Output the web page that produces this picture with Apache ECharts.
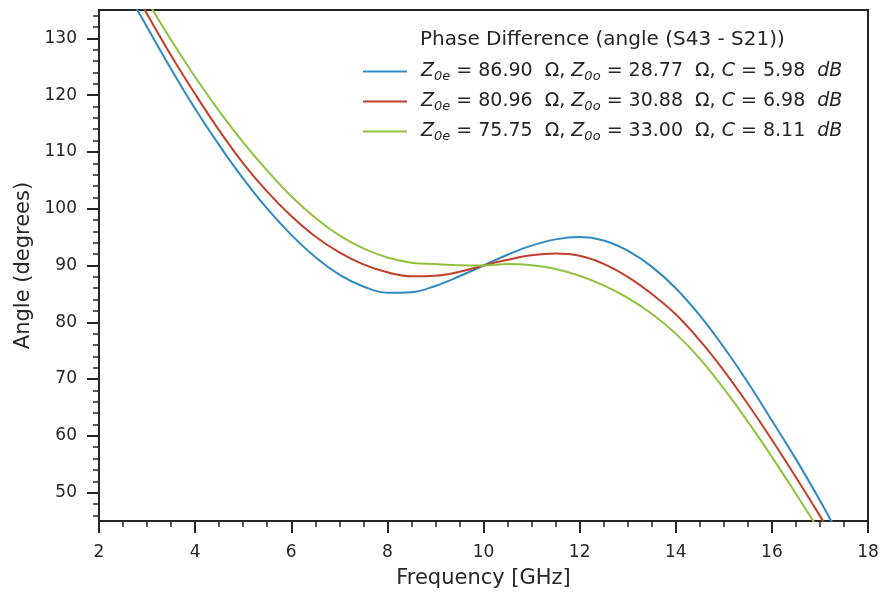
<!DOCTYPE html>
<html><head><meta charset="utf-8">
<script src="https://cdn.jsdelivr.net/npm/echarts@6/dist/echarts.min.js"></script>
<style>html,body{margin:0;padding:0;background:#fff}#c{width:881px;height:597px}</style>
</head><body><div id="c"></div>
<script>
const freq  = [2.5,3.0,3.5,4.0,4.5,5.0,5.5,6.0,6.5,7.0,7.5,8.0,8.5,9.0,9.5,10.0,10.5,11.0,11.5,12.0,12.5,13.0,13.5,14.0,14.5,15.0,15.5,16.0,16.5,17.0,17.5];
const blue  = [139.5,132.0,124.6,117.6,111.2,105.3,100.0,95.4,91.5,88.4,86.3,85.2,85.3,86.4,88.1,90.0,91.9,93.5,94.6,95.0,94.4,92.6,89.8,86.0,81.2,75.6,69.4,62.7,55.9,48.6,40.9];
const red   = [141.8,134.3,127.0,120.2,113.8,108.0,103.0,98.7,95.1,92.3,90.2,88.8,88.1,88.2,88.9,90.0,91.0,91.8,92.1,91.7,90.3,88.0,85.0,81.4,76.8,71.5,65.6,59.3,52.7,45.9,38.9];
const green = [144.2,136.7,129.7,123.2,117.2,111.7,106.7,102.2,98.4,95.3,93.0,91.4,90.5,90.25,90.05,90.0,90.25,90.05,89.4,88.2,86.5,84.3,81.5,78.0,73.6,68.3,62.5,56.3,49.8,43.1,36.2];
const xTicks = [2,4,6,8,10,12,14,16,18];
const yTicks = [50,60,70,80,90,100,110,120,130];
const z0e = ['86.90','80.96','75.75'];
const z0o = ['28.77','30.88','33.00'];
const cdb = ['5.98','6.98','8.11'];
const seriesNames = ['s1','s2','s3'];
const colors = ['#2f8ac4','#c0402a','#8fc23f'];
const legendTitle = 'Phase Difference (angle (S43 - S21))';

const ink = '#262626';
const font = '"DejaVu Sans", "Liberation Sans", sans-serif';
const allValues = [blue, red, green];
const chart = echarts.init(document.getElementById('c'));
const series = allValues.map((vals, k) => ({
  name: seriesNames[k],
  type: 'line',
  data: freq.map((f, i) => [f, vals[i]]),
  symbol: 'none',
  smooth: 0.4,
  clip: true,
  lineStyle: { width: 2, color: colors[k] },
  itemStyle: { color: colors[k] }
}));
chart.setOption({
  animation: false,
  backgroundColor: '#fff',
  textStyle: { fontFamily: font },
  grid: { left: 99, right: 13, top: 10, bottom: 76, show: true, borderColor: ink, borderWidth: 2, containLabel: false, outerBoundsMode: 'none' },
  title: { text: legendTitle, left: 420, top: 30, padding: 0, textStyle: { fontSize: 20, fontWeight: 'normal', color: ink, fontFamily: font } },
  legend: {
    data: seriesNames, orient: 'vertical', left: 363, top: 62, padding: 0,
    icon: 'rect', itemWidth: 44, itemHeight: 2, itemGap: 8.5,
    formatter: function (name) {
      const i = seriesNames.indexOf(name);
      return '{pad|}{i|Z}{s|0e}{n| = ' + z0e[i] + '  Ω, }{i|Z}{s|0o}{n| = ' + z0o[i] + '  Ω, }{i|C}{n| = ' + cdb[i] + '  }{i|dB}';
    },
    textStyle: {
      color: ink, fontSize: 19,
      rich: {
        pad: { width: 9, lineHeight: 24 },
        i: { fontStyle: 'italic', fontSize: 19, fontFamily: font, color: ink, lineHeight: 24 },
        s: { fontStyle: 'italic', fontSize: 13, fontFamily: font, color: ink, lineHeight: 14, verticalAlign: 'bottom' },
        n: { fontSize: 19, fontFamily: font, color: ink, lineHeight: 24 }
      }
    }
  },
  xAxis: {
    type: 'value', min: 2, max: 18, interval: 2,
    name: 'Frequency [GHz]', nameLocation: 'middle', nameGap: 47,
    nameTextStyle: { fontSize: 21, color: ink, fontFamily: font },
    axisLine: { show: true, lineStyle: { color: ink, width: 2 } },
    axisTick: { show: true, inside: false, length: 12, lineStyle: { color: ink, width: 2 } },
    minorTick: { show: true, splitNumber: 4, length: 6, lineStyle: { color: ink, width: 1.5 } },
    splitLine: { show: false },
    axisLabel: { fontSize: 17, color: ink, margin: 23, fontFamily: font, customValues: xTicks }
  },
  yAxis: {
    type: 'value', min: 45, max: 135, splitNumber: 9,
    name: 'Angle (degrees)', nameLocation: 'middle', nameGap: 64,
    nameTextStyle: { fontSize: 21, color: ink, fontFamily: font },
    axisLine: { show: true, lineStyle: { color: ink, width: 2 } },
    axisTick: { show: true, inside: false, length: 12, lineStyle: { color: ink, width: 2 }, customValues: yTicks },
    minorTick: { show: true, splitNumber: 5, length: 6, lineStyle: { color: ink, width: 1.5 } },
    splitLine: { show: false },
    axisLabel: { fontSize: 17, color: ink, margin: 22, fontFamily: font, customValues: yTicks }
  },
  series: series
});
</script>
</body></html>
